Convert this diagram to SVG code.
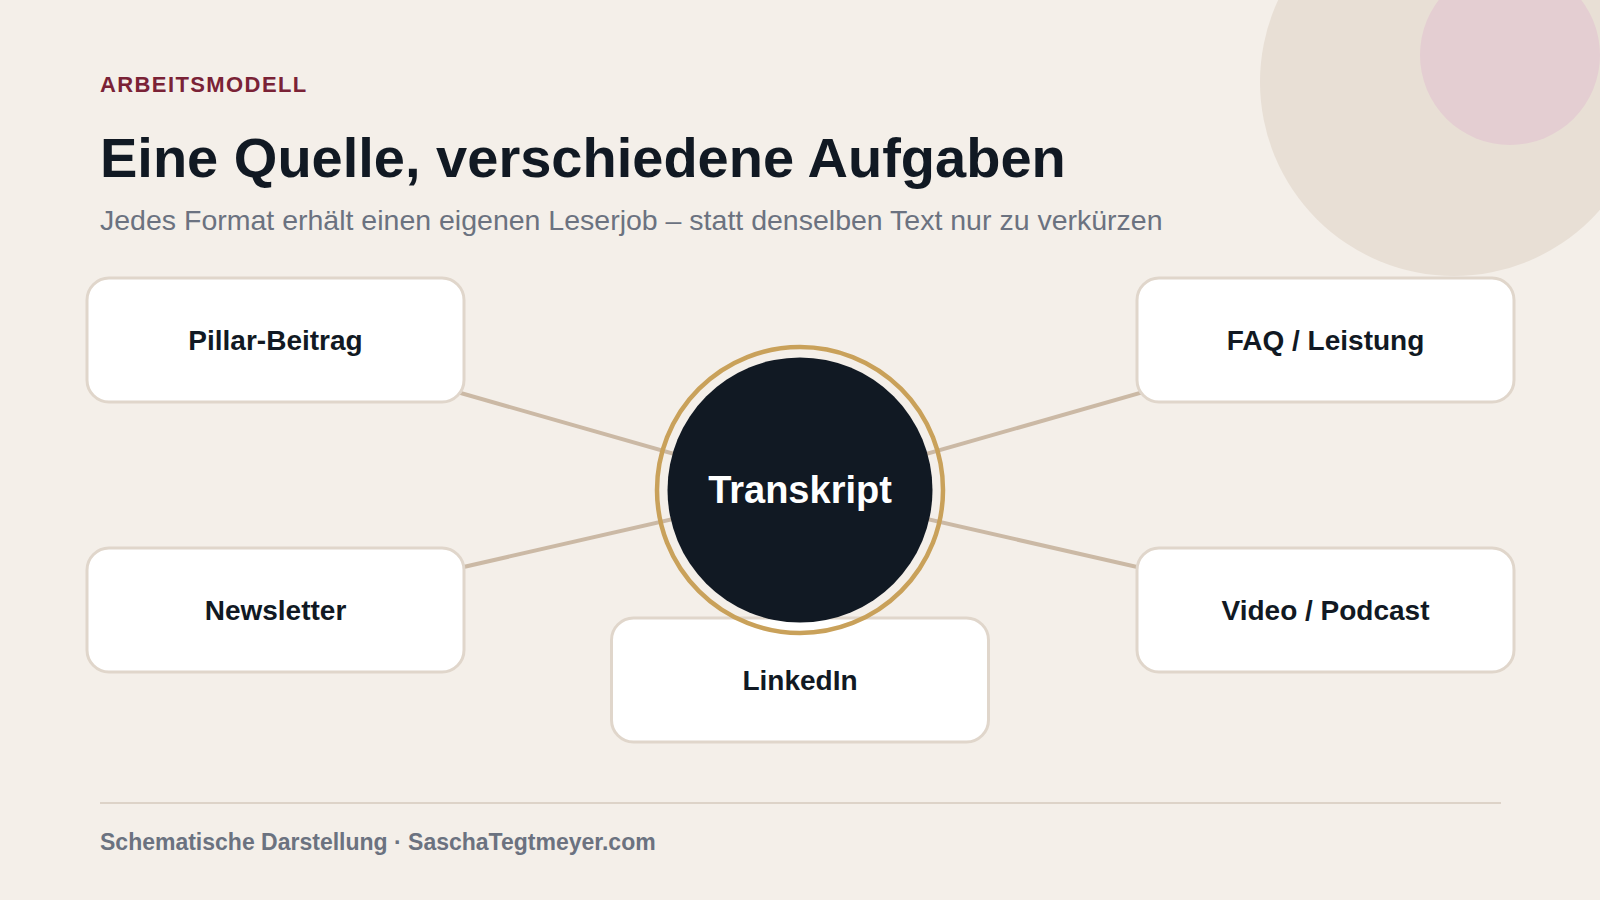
<svg xmlns="http://www.w3.org/2000/svg" width="1600" height="900" viewBox="0 0 1600 900">
  <style>
    .box { fill: #ffffff; stroke: #e0d6cb; stroke-width: 3; }
    .lbl { font-family: "Liberation Sans", Arial, sans-serif; font-weight: bold; font-size: 28px; fill: #111923; text-anchor: middle; }
    .conn { stroke: #cbb9a5; stroke-width: 4; fill: none; }
  </style>
  <rect x="0" y="0" width="1600" height="900" fill="#f4efe9"/>
  <g id="decor">
    <circle cx="1454" cy="82" r="194" fill="#e8dfd5"/>
    <circle cx="1510" cy="55" r="90" fill="#e4ced2"/>
  </g>
  <g id="header">
    <text x="100" y="92" font-family="Liberation Sans, Arial, sans-serif" font-weight="bold" font-size="22" letter-spacing="1.4" fill="#7a2236">ARBEITSMODELL</text>
    <text x="100" y="177" font-family="Liberation Sans, Arial, sans-serif" font-weight="bold" font-size="56" fill="#111923">Eine Quelle, verschiedene Aufgaben</text>
    <text x="100" y="230" font-family="Liberation Sans, Arial, sans-serif" font-size="28.5" fill="#6b7280">Jedes Format erhält einen eigenen Leserjob – statt denselben Text nur zu verkürzen</text>
  </g>
  <g id="connectors">
    <line class="conn" x1="800" y1="490" x2="275.5" y2="340"/>
    <line class="conn" x1="800" y1="490" x2="275.5" y2="610"/>
    <line class="conn" x1="800" y1="490" x2="1325.5" y2="340"/>
    <line class="conn" x1="800" y1="490" x2="1325.5" y2="610"/>
    <line class="conn" x1="800" y1="490" x2="800" y2="680"/>
  </g>
  <g id="node-pillar">
    <rect class="box" x="87" y="278" width="377" height="124" rx="22"/>
    <text class="lbl" x="275.5" y="350">Pillar-Beitrag</text>
  </g>
  <g id="node-newsletter">
    <rect class="box" x="87" y="548" width="377" height="124" rx="22"/>
    <text class="lbl" x="275.5" y="620">Newsletter</text>
  </g>
  <g id="node-faq">
    <rect class="box" x="1137" y="278" width="377" height="124" rx="22"/>
    <text class="lbl" x="1325.5" y="350">FAQ / Leistung</text>
  </g>
  <g id="node-video">
    <rect class="box" x="1137" y="548" width="377" height="124" rx="22"/>
    <text class="lbl" x="1325.5" y="620">Video / Podcast</text>
  </g>
  <g id="node-linkedin">
    <rect class="box" x="611.5" y="618" width="377" height="124" rx="22"/>
    <text class="lbl" x="800" y="690">LinkedIn</text>
  </g>
  <g id="node-transkript">
    <circle cx="800" cy="490" r="143" fill="none" stroke="#c9a15a" stroke-width="4.5"/>
    <circle cx="800" cy="490" r="132.5" fill="#111923"/>
    <text x="800" y="503" font-family="Liberation Sans, Arial, sans-serif" font-weight="bold" font-size="38" fill="#ffffff" text-anchor="middle">Transkript</text>
  </g>
  <g id="footer">
    <line x1="100" y1="803" x2="1501" y2="803" stroke="#ddd3c8" stroke-width="2"/>
    <text x="100" y="850" font-family="Liberation Sans, Arial, sans-serif" font-weight="bold" font-size="23" fill="#6b7280">Schematische Darstellung · SaschaTegtmeyer.com</text>
  </g>
</svg>
